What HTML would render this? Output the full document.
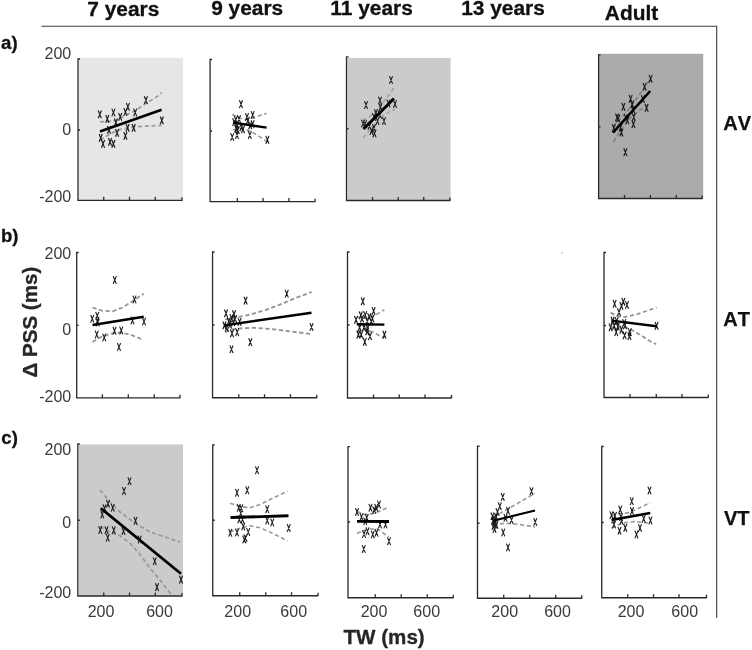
<!DOCTYPE html>
<html lang="en"><head><meta charset="utf-8"><title>TW vs PSS figure</title>
<style>
html,body{margin:0;padding:0;background:#fff;}
body{width:752px;height:650px;overflow:hidden;}
svg{display:block;will-change:transform;filter:grayscale(1);}
text{font-family:"Liberation Sans",Arial,Helvetica,sans-serif;}
.h{font-weight:700;font-size:20.9px;fill:#111;stroke:#111;stroke-width:.3px;}
.r{font-weight:700;font-size:20px;fill:#111;font-kerning:none;stroke:#111;stroke-width:.25px;}
.p{font-weight:700;font-size:18.6px;fill:#111;stroke:#111;stroke-width:.3px;}
.n{font-size:16px;fill:#3a3a3a;}
.ax{font-weight:700;font-size:20.6px;fill:#262626;stroke:#262626;stroke-width:.3px;}
.a{fill:none;stroke:#2a2a2a;stroke-width:1.3;}
.m{fill:none;stroke:#1c1c1c;stroke-width:1.15;}
.l{fill:none;stroke:#000;stroke-width:2.6;}
.c{fill:none;stroke:#929292;stroke-width:1.9;stroke-dasharray:4.2 2.6;}
</style></head><body>
<svg width="752" height="650" viewBox="0 0 752 650">
<rect x="0" y="0" width="752" height="650" fill="#ffffff"/>
<path class="a" d="M41.5 26.2 H716.7 V617.7" style="stroke:#3c3c3c;stroke-width:1.1"/>
<text class="h" x="87.3" y="15.6">7 years</text>
<text class="h" x="211.2" y="15.4">9 years</text>
<text class="h" x="330.3" y="15.4">11 years</text>
<text class="h" x="461.2" y="15.4">13 years</text>
<text class="h" x="604.8" y="19.9">Adult</text>
<text class="r" x="723.2" y="129.5">AV</text>
<text class="r" x="723.2" y="325.8">AT</text>
<text class="r" x="724" y="524.5">VT</text>
<text class="p" x="1.1" y="49">a)</text>
<text class="p" x="0.9" y="241.6">b)</text>
<text class="p" x="1.3" y="444.2">c)</text>
<text class="ax" transform="translate(36.5 377.6) rotate(-90)">Δ PSS (ms)</text>
<text class="ax" x="343.5" y="643.5">TW (ms)</text>
<text class="n" text-anchor="end" x="71.2" y="58.9">200</text>
<text class="n" text-anchor="end" x="71.2" y="134.6">0</text>
<text class="n" text-anchor="end" x="71.2" y="201.5">-200</text>
<text class="n" text-anchor="end" x="71.2" y="259.4">200</text>
<text class="n" text-anchor="end" x="71.2" y="334.7">0</text>
<text class="n" text-anchor="end" x="71.2" y="402">-200</text>
<text class="n" text-anchor="end" x="71.2" y="454.9">200</text>
<text class="n" text-anchor="end" x="71.2" y="528.2">0</text>
<text class="n" text-anchor="end" x="71.2" y="598.2">-200</text>
<text class="n" text-anchor="middle" x="101" y="616.8">200</text>
<text class="n" text-anchor="middle" x="159.5" y="616.8">600</text>
<text class="n" text-anchor="middle" x="237.7" y="616.5">200</text>
<text class="n" text-anchor="middle" x="293.7" y="616.5">600</text>
<text class="n" text-anchor="middle" x="374" y="616.5">200</text>
<text class="n" text-anchor="middle" x="426.7" y="616.5">600</text>
<text class="n" text-anchor="middle" x="504.7" y="616.5">200</text>
<text class="n" text-anchor="middle" x="557.5" y="616.5">600</text>
<text class="n" text-anchor="middle" x="631" y="616.5">200</text>
<text class="n" text-anchor="middle" x="684.7" y="616.5">600</text>
<g id="a1">
<rect x="79" y="57.8" width="104" height="142.5" fill="#e6e6e6"/>
<path class="c" style="stroke:#9c9c9c;stroke-width:1.7" d="M100 121.9 L107 121.6 L114.9 120.7 L120 118.3 L124.9 115.4 L134.9 111 L144.9 104 L158.8 95.5 L161.6 92.5"/>
<path class="c" style="stroke:#9c9c9c;stroke-width:1.7" d="M100 139.9 L105 136.9 L110 133.9 L120 129.4 L134.9 126.7 L149.9 125.9 L161.6 125.4"/>
<path class="m" d="M98.2 110.5l3.2 7.8m0-7.8l-3.2 7.8M105.7 115l3.2 7.8m0-7.8l-3.2 7.8M111.8 108.6l3.2 7.8m0-7.8l-3.2 7.8M118.6 113l3.2 7.8m0-7.8l-3.2 7.8M123.8 108.1l3.2 7.8m0-7.8l-3.2 7.8M126.3 102.9l3.2 7.8m0-7.8l-3.2 7.8M133.6 108.6l3.2 7.8m0-7.8l-3.2 7.8M144.3 96.3l3.2 7.8m0-7.8l-3.2 7.8M160.2 116.5l3.2 7.8m0-7.8l-3.2 7.8M114.3 118.5l3.2 7.8m0-7.8l-3.2 7.8M107.4 126l3.2 7.8m0-7.8l-3.2 7.8M115.5 129l3.2 7.8m0-7.8l-3.2 7.8M123.8 132l3.2 7.8m0-7.8l-3.2 7.8M126 124l3.2 7.8m0-7.8l-3.2 7.8M132.1 124l3.2 7.8m0-7.8l-3.2 7.8M99.1 134l3.2 7.8m0-7.8l-3.2 7.8M101.4 140l3.2 7.8m0-7.8l-3.2 7.8M108.4 138l3.2 7.8m0-7.8l-3.2 7.8M111.8 140l3.2 7.8m0-7.8l-3.2 7.8"/>
<path class="l" style="stroke-width:2.6" d="M100 131.4L161.6 109.7"/>
<path class="a" d="M80 59H78V200.3H182M78 130h2.0M103.75 200.3v-3.6M129.5 200.3v-3.6M155.25 200.3v-3.6M182 200.9v-3.6"/>
</g>
<g id="a2">
<path class="c" style="stroke:#999999;stroke-width:1.6" d="M232.2 114.2 L239 118 L245 119.5 L251.4 118.2 L260.2 115.4 L266.6 113.4"/>
<path class="c" style="stroke:#999999;stroke-width:1.6" d="M233 129.8 L241 128.6 L249 130.6 L257 135 L265 140.2 L266.6 141.2"/>
<path class="m" d="M239.4 100.3l3.2 7.8m0-7.8l-3.2 7.8M251 111.1l3.2 7.8m0-7.8l-3.2 7.8M245.4 113.1l3.2 7.8m0-7.8l-3.2 7.8M237.4 115.1l3.2 7.8m0-7.8l-3.2 7.8M234.2 115.9l3.2 7.8m0-7.8l-3.2 7.8M232.6 118.3l3.2 7.8m0-7.8l-3.2 7.8M246.2 116.7l3.2 7.8m0-7.8l-3.2 7.8M251 120.3l3.2 7.8m0-7.8l-3.2 7.8M248.6 121.5l3.2 7.8m0-7.8l-3.2 7.8M235.4 120.7l3.2 7.8m0-7.8l-3.2 7.8M239.8 123.5l3.2 7.8m0-7.8l-3.2 7.8M234.6 124.7l3.2 7.8m0-7.8l-3.2 7.8M241.4 125.5l3.2 7.8m0-7.8l-3.2 7.8M230.6 133.1l3.2 7.8m0-7.8l-3.2 7.8M235.4 131.1l3.2 7.8m0-7.8l-3.2 7.8M248.2 131.1l3.2 7.8m0-7.8l-3.2 7.8M265.8 135.9l3.2 7.8m0-7.8l-3.2 7.8M236.2 126.3l3.2 7.8m0-7.8l-3.2 7.8"/>
<path class="l" style="stroke-width:2.3" d="M233 122.6L266.6 127.6"/>
<path class="a" d="M212.1 59.5H210.1V201.7H315M210.1 131h2.0M237.3 201.7v-3.6M263.1 201.7v-3.6M288.9 201.7v-3.6M315 202.3v-3.6"/>
</g>
<g id="a3">
<rect x="347.3" y="57.9" width="103.3" height="142.6" fill="#cbcbcb"/>
<path class="c" style="stroke:#a0a0a0;stroke-width:1.4" d="M363 120.5 L369 117 L375 112 L384 101 L390 93.5 L395 86.5"/>
<path class="c" style="stroke:#a0a0a0;stroke-width:1.4" d="M363 138 L369 131 L375 124 L384 115 L390 111.5 L395 109.5"/>
<path class="m" d="M389.4 76.1l3.2 7.8m0-7.8l-3.2 7.8M364.4 101.1l3.2 7.8m0-7.8l-3.2 7.8M378.4 96.6l3.2 7.8m0-7.8l-3.2 7.8M393.4 100.1l3.2 7.8m0-7.8l-3.2 7.8M386.9 99.6l3.2 7.8m0-7.8l-3.2 7.8M378.9 103.1l3.2 7.8m0-7.8l-3.2 7.8M374.4 109.1l3.2 7.8m0-7.8l-3.2 7.8M378.4 111.1l3.2 7.8m0-7.8l-3.2 7.8M372.4 113.1l3.2 7.8m0-7.8l-3.2 7.8M382.4 117.1l3.2 7.8m0-7.8l-3.2 7.8M361.4 119.6l3.2 7.8m0-7.8l-3.2 7.8M363.4 120.1l3.2 7.8m0-7.8l-3.2 7.8M375.9 117.1l3.2 7.8m0-7.8l-3.2 7.8M367.9 122.1l3.2 7.8m0-7.8l-3.2 7.8M369.9 127.1l3.2 7.8m0-7.8l-3.2 7.8M372.9 129.6l3.2 7.8m0-7.8l-3.2 7.8M372.4 124.1l3.2 7.8m0-7.8l-3.2 7.8"/>
<path class="l" style="stroke-width:2.8" d="M363.5 129L394 98.5"/>
<path class="a" d="M348.5 56.9H346.5V200.5H450M346.5 128.75h2.0M372.5 200.5v-3.6M398.25 200.5v-3.6M423.75 200.5v-3.6M450 201.1v-3.6"/>
</g>
<g id="a5">
<rect x="598" y="53.8" width="105.2" height="144.7" fill="#ababab"/>
<path class="c" style="stroke:#7c7c7c;stroke-width:1.5" d="M613 126 L620 119 L627.4 110.8 L637 98 L641 92.4 L648.2 82 L650.2 79.5"/>
<path class="c" style="stroke:#7c7c7c;stroke-width:1.5" d="M613.4 141.8 L617 136.2 L623.4 126.6 L631.4 117 L639.4 110.6 L649.8 103.4"/>
<path class="m" d="M649 74.9l3.2 7.8m0-7.8l-3.2 7.8M643 82.9l3.2 7.8m0-7.8l-3.2 7.8M629 94.9l3.2 7.8m0-7.8l-3.2 7.8M621.8 102.9l3.2 7.8m0-7.8l-3.2 7.8M641.4 95.3l3.2 7.8m0-7.8l-3.2 7.8M630.6 100.5l3.2 7.8m0-7.8l-3.2 7.8M645 103.9l3.2 7.8m0-7.8l-3.2 7.8M631.8 106.1l3.2 7.8m0-7.8l-3.2 7.8M615.4 113.6l3.2 7.8m0-7.8l-3.2 7.8M624.2 114.1l3.2 7.8m0-7.8l-3.2 7.8M632.2 113.2l3.2 7.8m0-7.8l-3.2 7.8M631.8 120.3l3.2 7.8m0-7.8l-3.2 7.8M612.2 124.3l3.2 7.8m0-7.8l-3.2 7.8M619 123.5l3.2 7.8m0-7.8l-3.2 7.8M619.8 128.7l3.2 7.8m0-7.8l-3.2 7.8M623.8 148.3l3.2 7.8m0-7.8l-3.2 7.8M625.8 116.3l3.2 7.8m0-7.8l-3.2 7.8M616.6 114.5l3.2 7.8m0-7.8l-3.2 7.8"/>
<path class="l" style="stroke-width:2.5" d="M613 132.6L650.2 91"/>
<path class="a" d="M600.6 54.8H598.6V198.5H702.4M598.6 126.9h2.0M624.5 198.5v-3.6M650.4 198.5v-3.6M676.25 198.5v-3.6M702.25 199.1v-3.6"/>
</g>
<g id="b1">
<path class="c" style="stroke:#959595;stroke-width:1.8" d="M92.5 307.5 L102.5 310.75 L112.5 311.25 L122.5 307.5 L132.5 301.25 L143.75 293.75"/>
<path class="c" style="stroke:#959595;stroke-width:1.8" d="M92.5 342 L100 337.5 L110 333.75 L120 332.5 L130 334.5 L143.75 340"/>
<path class="m" d="M90.65 314.85l3.2 7.8m0-7.8l-3.2 7.8M95.65 311.85l3.2 7.8m0-7.8l-3.2 7.8M96.15 318.6l3.2 7.8m0-7.8l-3.2 7.8M95.7 317.1l3.2 7.8m0-7.8l-3.2 7.8M113.15 276.1l3.2 7.8m0-7.8l-3.2 7.8M132.9 295.6l3.2 7.8m0-7.8l-3.2 7.8M130.9 316.6l3.2 7.8m0-7.8l-3.2 7.8M142.4 317.6l3.2 7.8m0-7.8l-3.2 7.8M95.15 330.6l3.2 7.8m0-7.8l-3.2 7.8M102.65 333.6l3.2 7.8m0-7.8l-3.2 7.8M112.9 326.85l3.2 7.8m0-7.8l-3.2 7.8M119.65 326.6l3.2 7.8m0-7.8l-3.2 7.8M117.4 343.1l3.2 7.8m0-7.8l-3.2 7.8"/>
<path class="l" style="stroke-width:2.5" d="M92.5 325L143.75 316.75"/>
<path class="a" d="M78.7 252.5H76.7V397.8H180M76.7 325.4h2.0M102.4 397.8v-3.6M128.3 397.8v-3.6M154.2 397.8v-3.6M180 398.4v-3.6"/>
</g>
<g id="b2">
<path class="c" style="stroke:#959595;stroke-width:1.9" d="M225.2 319.5 L238 317 L250 314.6 L266 309.8 L278 305.4 L295 298.3 L311.5 292"/>
<path class="c" style="stroke:#959595;stroke-width:1.9" d="M225.2 332.2 L232.4 329.4 L242 328.2 L254 327.8 L266 328.6 L278 329.8 L295 332 L311.5 334"/>
<path class="m" d="M244 296.7l3.2 7.8m0-7.8l-3.2 7.8M285.15 289.85l3.2 7.8m0-7.8l-3.2 7.8M309.9 323.1l3.2 7.8m0-7.8l-3.2 7.8M248.7 338.2l3.2 7.8m0-7.8l-3.2 7.8M229.9 345.35l3.2 7.8m0-7.8l-3.2 7.8M224.4 309.5l3.2 7.8m0-7.8l-3.2 7.8M232.4 310.3l3.2 7.8m0-7.8l-3.2 7.8M230 314.3l3.2 7.8m0-7.8l-3.2 7.8M233.6 315.1l3.2 7.8m0-7.8l-3.2 7.8M227.2 317.5l3.2 7.8m0-7.8l-3.2 7.8M238 317.9l3.2 7.8m0-7.8l-3.2 7.8M222.8 321.5l3.2 7.8m0-7.8l-3.2 7.8M228.4 320.7l3.2 7.8m0-7.8l-3.2 7.8M225.2 323.9l3.2 7.8m0-7.8l-3.2 7.8M230.4 329.5l3.2 7.8m0-7.8l-3.2 7.8M235.6 328.3l3.2 7.8m0-7.8l-3.2 7.8M231.6 318.3l3.2 7.8m0-7.8l-3.2 7.8"/>
<path class="l" style="stroke-width:2.3" d="M224.4 325.3L311.5 312.75"/>
<path class="a" d="M214.55 252H212.55V397.75H316.75M212.55 325h2.0M238.75 397.75v-3.6M264.5 397.75v-3.6M290.5 397.75v-3.6M316.75 398.35v-3.6"/>
</g>
<g id="b3">
<path class="c" style="stroke:#999999;stroke-width:1.6" d="M356.8 317 L362 318.3 L368 318.3 L376.4 314.6 L384.4 309.8"/>
<path class="c" style="stroke:#999999;stroke-width:1.6" d="M356.8 332 L362 330 L366 329.5 L371.6 331.4 L380.4 336.2 L384.4 338.3"/>
<path class="m" d="M361.2 297.5l3.2 7.8m0-7.8l-3.2 7.8M372 307.1l3.2 7.8m0-7.8l-3.2 7.8M354.4 315.9l3.2 7.8m0-7.8l-3.2 7.8M359.2 311.5l3.2 7.8m0-7.8l-3.2 7.8M363.6 311.1l3.2 7.8m0-7.8l-3.2 7.8M367.6 313.1l3.2 7.8m0-7.8l-3.2 7.8M370.8 314.7l3.2 7.8m0-7.8l-3.2 7.8M360.4 314.7l3.2 7.8m0-7.8l-3.2 7.8M365.6 317.1l3.2 7.8m0-7.8l-3.2 7.8M369.6 317.5l3.2 7.8m0-7.8l-3.2 7.8M358 323.5l3.2 7.8m0-7.8l-3.2 7.8M362.4 323.5l3.2 7.8m0-7.8l-3.2 7.8M366 324.3l3.2 7.8m0-7.8l-3.2 7.8M356.8 330.7l3.2 7.8m0-7.8l-3.2 7.8M359.6 330.7l3.2 7.8m0-7.8l-3.2 7.8M365.6 327.5l3.2 7.8m0-7.8l-3.2 7.8M368.4 332.3l3.2 7.8m0-7.8l-3.2 7.8M382.8 330.7l3.2 7.8m0-7.8l-3.2 7.8M363.2 337.9l3.2 7.8m0-7.8l-3.2 7.8"/>
<path class="l" style="stroke-width:2.4" d="M356.8 324.2L384.4 324.6"/>
<path class="a" d="M349.5 252H347.5V398H451.5M347.5 325h2.0M373.5 398v-3.6M399.25 398v-3.6M425 398v-3.6M451.5 398.6v-3.6"/>
</g>
<g id="b5">
<path class="c" style="stroke:#959595;stroke-width:1.8" d="M610.6 312.6 L617 316.2 L625 317 L637 314.2 L646.6 311 L656.6 307.4"/>
<path class="c" style="stroke:#959595;stroke-width:1.8" d="M610.6 328 L618 326.5 L625 327 L631.4 329.8 L641 335.4 L649.8 341 L656.2 344.2"/>
<path class="m" d="M613 299.9l3.2 7.8m0-7.8l-3.2 7.8M621.8 297.9l3.2 7.8m0-7.8l-3.2 7.8M619.8 301.9l3.2 7.8m0-7.8l-3.2 7.8M625.4 301.1l3.2 7.8m0-7.8l-3.2 7.8M617.4 308.3l3.2 7.8m0-7.8l-3.2 7.8M611 316.7l3.2 7.8m0-7.8l-3.2 7.8M615 317.1l3.2 7.8m0-7.8l-3.2 7.8M622.6 319.1l3.2 7.8m0-7.8l-3.2 7.8M609 323.5l3.2 7.8m0-7.8l-3.2 7.8M612.6 321.9l3.2 7.8m0-7.8l-3.2 7.8M616.2 322.7l3.2 7.8m0-7.8l-3.2 7.8M619.8 325.9l3.2 7.8m0-7.8l-3.2 7.8M614.6 328.3l3.2 7.8m0-7.8l-3.2 7.8M623 331.5l3.2 7.8m0-7.8l-3.2 7.8M627.8 332.3l3.2 7.8m0-7.8l-3.2 7.8M628.2 328.3l3.2 7.8m0-7.8l-3.2 7.8M655 321.9l3.2 7.8m0-7.8l-3.2 7.8M623.4 321.5l3.2 7.8m0-7.8l-3.2 7.8"/>
<path class="l" style="stroke-width:2.4" d="M611.4 320.6L656.6 326.2"/>
<path class="a" d="M606 252.5H604V397.5H708.25M604 325.5h2.0M630 397.5v-3.6M656.25 397.5v-3.6M682 397.5v-3.6M708.25 398.1v-3.6"/>
</g>
<g id="c1">
<rect x="78.8" y="444.4" width="104.2" height="151.6" fill="#cbcbcb"/>
<path class="c" style="stroke:#989898;stroke-width:1.7" d="M100 490 L110 502 L120 512 L135 523.25 L150 532 L165 537 L180 542"/>
<path class="c" style="stroke:#989898;stroke-width:1.7" d="M100 526.5 L110 532 L120 535.75 L130 543.25 L140 554.5 L150 568.25 L160 580 L172.3 596"/>
<path class="m" d="M127.9 477.35l3.2 7.8m0-7.8l-3.2 7.8M122.4 487.1l3.2 7.8m0-7.8l-3.2 7.8M106.4 499.85l3.2 7.8m0-7.8l-3.2 7.8M111.15 503.85l3.2 7.8m0-7.8l-3.2 7.8M102.9 504.35l3.2 7.8m0-7.8l-3.2 7.8M100.65 510.6l3.2 7.8m0-7.8l-3.2 7.8M133.9 516.85l3.2 7.8m0-7.8l-3.2 7.8M98.65 526.1l3.2 7.8m0-7.8l-3.2 7.8M104.9 526.35l3.2 7.8m0-7.8l-3.2 7.8M112.15 526.35l3.2 7.8m0-7.8l-3.2 7.8M121.9 527.1l3.2 7.8m0-7.8l-3.2 7.8M106.15 533.85l3.2 7.8m0-7.8l-3.2 7.8M138.15 535.6l3.2 7.8m0-7.8l-3.2 7.8M153.15 557.35l3.2 7.8m0-7.8l-3.2 7.8M179.4 575.7l3.2 7.8m0-7.8l-3.2 7.8M155.4 583.2l3.2 7.8m0-7.8l-3.2 7.8"/>
<path class="l" style="stroke-width:2.8" d="M100.75 508.25L181 573.75"/>
<path class="a" d="M79.8 444H77.8V596H182.5M77.8 520.25h2.0M103.75 596v-3.6M129.5 596v-3.6M155.25 596v-3.6M182 596.6v-3.6"/>
</g>
<g id="c2">
<path class="c" style="stroke:#999999;stroke-width:1.6" d="M230 503.25 L240 506.5 L250 507.75 L260 504.5 L272.5 498.25 L287.5 491.25"/>
<path class="c" style="stroke:#999999;stroke-width:1.6" d="M230 532 L240 528.25 L250 525.75 L260 527.75 L272.5 533.25 L287.5 540.75"/>
<path class="m" d="M255.4 466.35l3.2 7.8m0-7.8l-3.2 7.8M245.65 486.35l3.2 7.8m0-7.8l-3.2 7.8M235.4 488.85l3.2 7.8m0-7.8l-3.2 7.8M265.65 505.35l3.2 7.8m0-7.8l-3.2 7.8M237.15 503.85l3.2 7.8m0-7.8l-3.2 7.8M239.65 504.35l3.2 7.8m0-7.8l-3.2 7.8M239.15 509.35l3.2 7.8m0-7.8l-3.2 7.8M237.65 515.6l3.2 7.8m0-7.8l-3.2 7.8M240.9 515.6l3.2 7.8m0-7.8l-3.2 7.8M265.65 516.6l3.2 7.8m0-7.8l-3.2 7.8M270.65 518.6l3.2 7.8m0-7.8l-3.2 7.8M287.15 524.1l3.2 7.8m0-7.8l-3.2 7.8M241.65 522.6l3.2 7.8m0-7.8l-3.2 7.8M228.65 528.85l3.2 7.8m0-7.8l-3.2 7.8M235.4 528.6l3.2 7.8m0-7.8l-3.2 7.8M246.65 528.1l3.2 7.8m0-7.8l-3.2 7.8M242.65 535.6l3.2 7.8m0-7.8l-3.2 7.8M243.9 534.35l3.2 7.8m0-7.8l-3.2 7.8"/>
<path class="l" style="stroke-width:2.8" d="M230.5 517.5L288.5 515.75"/>
<path class="a" d="M214.75 444.8H212.75V595.75H318M212.75 520.25h2.0M239.75 595.75v-3.6M265.75 595.75v-3.6M291.5 595.75v-3.6M318 596.35v-3.6"/>
</g>
<g id="c3">
<path class="c" style="stroke:#999999;stroke-width:1.6" d="M357 511.5 L365 514.5 L375 513.25 L389 507"/>
<path class="c" style="stroke:#999999;stroke-width:1.6" d="M357 533.25 L367.5 529 L377.5 529 L389 537"/>
<path class="m" d="M355.4 508.1l3.2 7.8m0-7.8l-3.2 7.8M359.9 513.1l3.2 7.8m0-7.8l-3.2 7.8M365.15 513.85l3.2 7.8m0-7.8l-3.2 7.8M363.65 517.35l3.2 7.8m0-7.8l-3.2 7.8M368.9 503.85l3.2 7.8m0-7.8l-3.2 7.8M372.65 506.1l3.2 7.8m0-7.8l-3.2 7.8M374.65 503.85l3.2 7.8m0-7.8l-3.2 7.8M377.4 500.6l3.2 7.8m0-7.8l-3.2 7.8M378.4 520.6l3.2 7.8m0-7.8l-3.2 7.8M383.9 520.6l3.2 7.8m0-7.8l-3.2 7.8M362.4 530.1l3.2 7.8m0-7.8l-3.2 7.8M365.9 527.35l3.2 7.8m0-7.8l-3.2 7.8M371.15 530.6l3.2 7.8m0-7.8l-3.2 7.8M374.9 528.85l3.2 7.8m0-7.8l-3.2 7.8M387.4 537.35l3.2 7.8m0-7.8l-3.2 7.8M362.15 545.1l3.2 7.8m0-7.8l-3.2 7.8"/>
<path class="l" style="stroke-width:2.8" d="M357 521.4L389 521.5"/>
<path class="a" d="M350 446.6H348V597.75H453.25M348 522h2.0M375.25 597.75v-3.6M401.25 597.75v-3.6M427.25 597.75v-3.6M453.25 598.35v-3.6"/>
</g>
<g id="c4">
<path class="c" style="stroke:#999999;stroke-width:1.6" d="M493 517 L505 510.75 L520 502 L535 493.25"/>
<path class="c" style="stroke:#999999;stroke-width:1.6" d="M493 525 L505 523.25 L520 524.5 L535 527"/>
<path class="m" d="M501.15 493.1l3.2 7.8m0-7.8l-3.2 7.8M529.9 487.35l3.2 7.8m0-7.8l-3.2 7.8M498.15 502.35l3.2 7.8m0-7.8l-3.2 7.8M506.4 506.85l3.2 7.8m0-7.8l-3.2 7.8M495.9 508.1l3.2 7.8m0-7.8l-3.2 7.8M490.9 512.35l3.2 7.8m0-7.8l-3.2 7.8M494.65 513.1l3.2 7.8m0-7.8l-3.2 7.8M503.9 513.85l3.2 7.8m0-7.8l-3.2 7.8M509.9 516.1l3.2 7.8m0-7.8l-3.2 7.8M533.65 518.1l3.2 7.8m0-7.8l-3.2 7.8M491.4 516.85l3.2 7.8m0-7.8l-3.2 7.8M493.4 520.6l3.2 7.8m0-7.8l-3.2 7.8M492.9 525.1l3.2 7.8m0-7.8l-3.2 7.8M501.65 528.6l3.2 7.8m0-7.8l-3.2 7.8M506.4 543.6l3.2 7.8m0-7.8l-3.2 7.8M492.15 518.6l3.2 7.8m0-7.8l-3.2 7.8M492.4 515.1l3.2 7.8m0-7.8l-3.2 7.8M493.9 518.1l3.2 7.8m0-7.8l-3.2 7.8M491.9 522.1l3.2 7.8m0-7.8l-3.2 7.8M494.9 521.1l3.2 7.8m0-7.8l-3.2 7.8"/>
<path class="l" style="stroke-width:2.3" d="M493 520.75L535 510.5"/>
<path class="a" d="M479.5 446.25H477.5V598.25H581.75M477.5 523.25h2.0M503.75 598.25v-3.6M529.75 598.25v-3.6M555.75 598.25v-3.6M581.75 598.85v-3.6"/>
</g>
<g id="c5">
<path class="c" style="stroke:#999999;stroke-width:1.6" d="M611.5 515.75 L617.4 513.9 L623.8 513.4 L629.4 512.6 L635 509.9 L641.4 507 L650.2 502.6"/>
<path class="c" style="stroke:#999999;stroke-width:1.6" d="M611.5 528.25 L621.5 523.25 L634 521.5 L650.25 523.25"/>
<path class="m" d="M647.9 486.6l3.2 7.8m0-7.8l-3.2 7.8M630.15 497.35l3.2 7.8m0-7.8l-3.2 7.8M618.65 505.6l3.2 7.8m0-7.8l-3.2 7.8M630.4 507.1l3.2 7.8m0-7.8l-3.2 7.8M609.9 511.35l3.2 7.8m0-7.8l-3.2 7.8M613.4 511.85l3.2 7.8m0-7.8l-3.2 7.8M619.4 513.1l3.2 7.8m0-7.8l-3.2 7.8M642.15 514.85l3.2 7.8m0-7.8l-3.2 7.8M648.9 516.6l3.2 7.8m0-7.8l-3.2 7.8M612.4 520.6l3.2 7.8m0-7.8l-3.2 7.8M617.9 526.85l3.2 7.8m0-7.8l-3.2 7.8M623.7 523.9l3.2 7.8m0-7.8l-3.2 7.8M638.4 524.1l3.2 7.8m0-7.8l-3.2 7.8M634.9 530.6l3.2 7.8m0-7.8l-3.2 7.8M611.65 515.6l3.2 7.8m0-7.8l-3.2 7.8M619.9 516.85l3.2 7.8m0-7.8l-3.2 7.8"/>
<path class="l" style="stroke-width:2.3" d="M611.5 520L650.25 513"/>
<path class="a" d="M603.75 446.5H601.75V597.75H706.5M601.75 522.5h2.0M627.75 597.75v-3.6M653.5 597.75v-3.6M679 597.75v-3.6M706.5 598.35v-3.6"/>
</g>
<rect x="561.1" y="252.2" width="1.7" height="1.2" fill="#b4b4b4"/>
</svg></body></html>
